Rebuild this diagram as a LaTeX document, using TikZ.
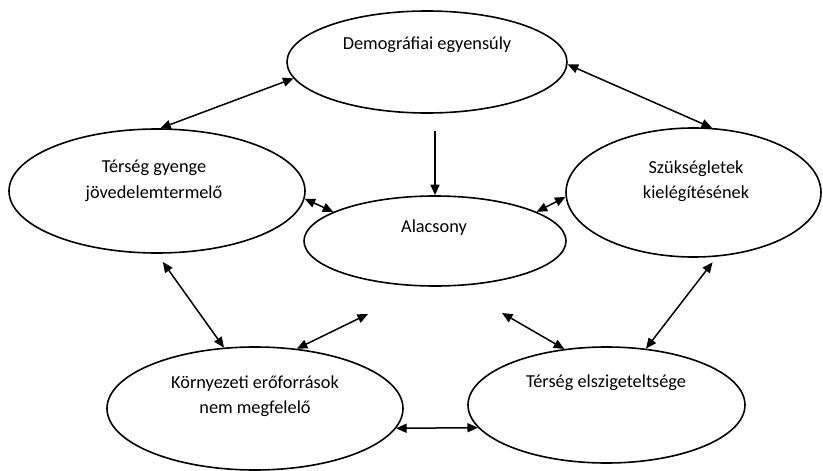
\documentclass[tikz,border=0pt]{standalone}
\usepackage{fontspec}
\setmainfont{Carlito}
\usetikzlibrary{arrows.meta,shapes.geometric}
\begin{document}
\begin{tikzpicture}[x=1pt,y=-1pt,
  oval/.style={draw,ellipse,line width=1.6pt,inner sep=0pt},
  lbl/.style={align=center,inner sep=0pt,font=\fontsize{18.3}{25.5}\selectfont},
  dbl/.style={line width=1.5pt,{Triangle[length=10.5pt,width=9pt]}-{Triangle[length=10.5pt,width=9pt]}},
  sgl/.style={line width=1.5pt,-{Triangle[length=10.5pt,width=9pt]}}]
\useasboundingbox (0,0) rectangle (823,471);
\fill[white] (0,0) rectangle (823,471);
% ellipses
\node[oval,minimum width=280pt,minimum height=102pt] (D) at (427,62) {};
\node[oval,minimum width=296pt,minimum height=124pt] (T) at (157,191) {};
\node[oval,minimum width=255pt,minimum height=129pt] (S) at (693.5,192.5) {};
\node[oval,minimum width=262pt,minimum height=90pt] (A) at (435,241) {};
\node[oval,minimum width=296pt,minimum height=123pt] (K) at (255,408.5) {};
\node[oval,minimum width=277pt,minimum height=116pt] (E) at (606.5,405) {};
% texts
\node[lbl] (tD) at (427,45) {Demográfiai egyensúly};
\node[lbl] (tT) at (154,181) {Térség gyenge\\jövedelemtermelő};
\node[lbl] (tS) at (696,181) {Szükségletek\\kielégítésének};
\node[lbl] (tA) at (434,228) {Alacsony};
\node[lbl] (tK) at (255,396) {Környezeti erőforrások\\nem megfelelő};
\node[lbl] (tE) at (606,383) {Térség elszigeteltsége};
% free ends
\coordinate (ka) at (368,314);
\coordinate (ea) at (502,313);
% connectors
\draw[dbl] (D.187) -- (T.87);
\draw[dbl] (D.-1) -- (S.74);
\draw[sgl,shorten <=17pt] (D.south -| A.north) -- (A.north);
\draw[dbl] (T.-3) -- (A.164);
\draw[dbl] (S.182) -- (A.16);
\draw[dbl,shorten <=10pt] (T.-90) -- (K.117);
\draw[dbl] (K.55) -- (ka);
\draw[dbl] (E.127) -- (ea);
\draw[dbl,shorten <=7pt] (S.-70) -- (E.55);
\draw[dbl] (K.-8) -- (E.190);
\end{tikzpicture}
\end{document}
